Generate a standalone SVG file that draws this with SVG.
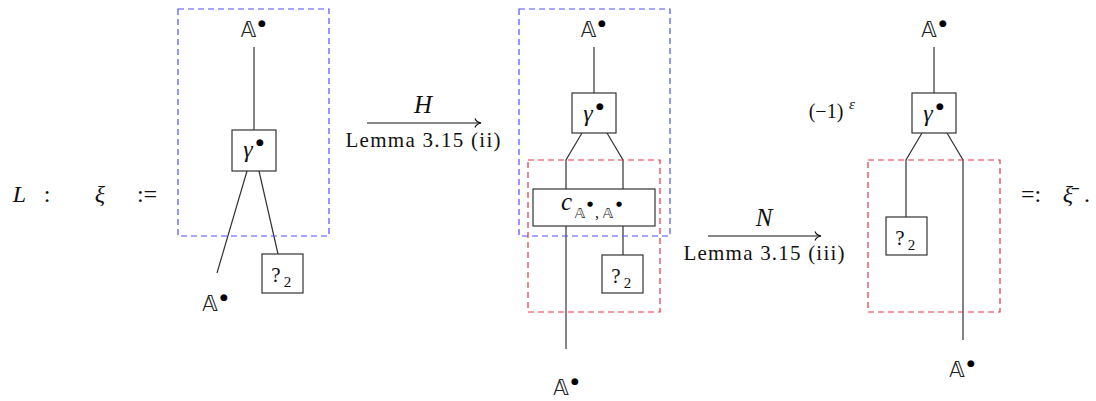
<svg xmlns="http://www.w3.org/2000/svg" width="1096" height="401" viewBox="0 0 1096 401">
<defs>
  <marker id="to" markerUnits="userSpaceOnUse" markerWidth="12" markerHeight="12" viewBox="-7 -6 8 12" refX="0" refY="0" orient="auto">
    <path d="M-6,-4.5 C-5,-1.8 -2,-0.4 0,0 C-2,0.4 -5,1.8 -6,4.5" fill="none" stroke="#111" stroke-width="1.1"/>
  </marker>
</defs>
<rect x="0" y="0" width="1096" height="401" fill="#ffffff"/>

<g id="lhs" fill="#111" text-anchor="middle" font-size="24">
  <text style="font-family: 'Liberation Serif', serif; font-style: italic" x="19.5" y="202">L</text>
  <text style="font-family: 'Liberation Serif', serif" x="47" y="202">:</text>
  <text style="font-family: 'Liberation Serif', serif; font-style: italic" x="100" y="202">ξ</text>
  <text style="font-family: 'Liberation Serif', serif" x="147" y="202">:=</text>
</g>

<g id="connectors" fill="none" stroke="#333333" stroke-width="1.2">
  <line x1="254" y1="47" x2="254" y2="130"/>
  <line x1="247" y1="171" x2="217" y2="273"/>
  <line x1="259" y1="171" x2="278" y2="254"/>
  <line x1="594" y1="47" x2="594" y2="93"/>
  <polyline points="582,133 566,160 566,189"/>
  <polyline points="607,133 623,160 623,189"/>
  <line x1="566" y1="226" x2="566" y2="349"/>
  <line x1="623" y1="226" x2="623" y2="255"/>
  <line x1="934" y1="47" x2="934" y2="93"/>
  <polyline points="922,133 906,160 906,217"/>
  <polyline points="947,133 963,160 963,340"/>
  <line x1="367" y1="123" x2="481" y2="123" stroke="#111" stroke-width="1.1" marker-end="url(#to)"/>
  <line x1="708" y1="236" x2="821" y2="236" stroke="#111" stroke-width="1.1" marker-end="url(#to)"/>
</g>

<g id="regions" fill="none" stroke-width="1.2" stroke-dasharray="6 4">
  <rect id="region-blue-1" stroke="#5050ff" x="178" y="9" width="151" height="227"/>
  <rect id="region-blue-2" stroke="#5050ff" x="519" y="9" width="151" height="227"/>
  <rect id="region-red-2" stroke="#e03545" x="528" y="160" width="132" height="152"/>
  <rect id="region-red-3" stroke="#e03545" x="868" y="160" width="132" height="152"/>
</g>

<g id="d1-top"><text style="font-family: 'DejaVu Sans', sans-serif" font-size="21" text-anchor="middle" fill="#222" x="248.5" y="37">𝔸<tspan font-size="9" fill="#000" x="262" y="25.7">●</tspan></text></g>
<g id="d1-gamma">
  <rect x="232" y="130" width="44" height="41" fill="#fff" stroke="#333" stroke-width="1.2"/>
  <text style="font-family: 'Liberation Serif', serif; font-style: italic" font-size="24" text-anchor="middle" fill="#111" x="248" y="157">γ<tspan style="font-family: 'DejaVu Sans', sans-serif; font-style: normal" font-size="9" fill="#000" x="260" y="144.7">●</tspan></text>
</g>
<g id="d1-q2">
  <rect x="262" y="254" width="41" height="39" fill="#fff" stroke="#333" stroke-width="1.2"/>
  <text style="font-family: 'Liberation Serif', serif" font-size="21" text-anchor="middle" fill="#111" x="276" y="282">?<tspan font-size="15" x="287.5" y="287">2</tspan></text>
</g>
<g id="d1-bottom"><text style="font-family: 'DejaVu Sans', sans-serif" font-size="21" text-anchor="middle" fill="#222" x="210" y="311">𝔸<tspan font-size="9" fill="#000" x="224" y="299.7">●</tspan></text></g>

<g id="arrow-H" fill="#111" text-anchor="middle">
  <text style="font-family: 'Liberation Serif', serif; font-style: italic" font-size="25" x="423" y="113">H</text>
  <text style="font-family: 'Liberation Serif', serif" font-size="21" x="423" y="147" textLength="155" lengthAdjust="spacing">Lemma 3.15 (ii)</text>
</g>

<g id="d2-top"><text style="font-family: 'DejaVu Sans', sans-serif" font-size="21" text-anchor="middle" fill="#222" x="588.5" y="37">𝔸<tspan font-size="9" fill="#000" x="602" y="25.7">●</tspan></text></g>
<g id="d2-gamma">
  <rect x="572" y="93" width="44" height="40" fill="#fff" stroke="#333" stroke-width="1.2"/>
  <text style="font-family: 'Liberation Serif', serif; font-style: italic" font-size="24" text-anchor="middle" fill="#111" x="588" y="121">γ<tspan style="font-family: 'DejaVu Sans', sans-serif; font-style: normal" font-size="9" fill="#000" x="600" y="108.7">●</tspan></text>
</g>
<g id="d2-c">
  <rect x="533" y="189" width="122" height="37" fill="#fff" stroke="#333" stroke-width="1.2"/>
  <text style="font-family: 'Liberation Serif', serif; font-style: italic" font-size="25" text-anchor="middle" fill="#111" x="566.5" y="210">c<tspan style="font-family: 'DejaVu Sans', sans-serif; font-style: normal" font-size="14" fill="#222" x="580" y="218">𝔸</tspan><tspan style="font-family: 'DejaVu Sans', sans-serif; font-style: normal" font-size="7" fill="#000" x="590" y="206">●</tspan><tspan style="font-style: normal" font-size="16" x="597" y="218">,</tspan><tspan style="font-family: 'DejaVu Sans', sans-serif; font-style: normal" font-size="14" fill="#222" x="608" y="218">𝔸</tspan><tspan style="font-family: 'DejaVu Sans', sans-serif; font-style: normal" font-size="7" fill="#000" x="619" y="206">●</tspan></text>
</g>
<g id="d2-q2">
  <rect x="602" y="255" width="41" height="38" fill="#fff" stroke="#333" stroke-width="1.2"/>
  <text style="font-family: 'Liberation Serif', serif" font-size="21" text-anchor="middle" fill="#111" x="616" y="283">?<tspan font-size="15" x="627.5" y="288">2</tspan></text>
</g>
<g id="d2-bottom"><text style="font-family: 'DejaVu Sans', sans-serif" font-size="21" text-anchor="middle" fill="#222" x="561" y="395">𝔸<tspan font-size="9" fill="#000" x="575" y="383.7">●</tspan></text></g>

<g id="arrow-N" fill="#111" text-anchor="middle">
  <text style="font-family: 'Liberation Serif', serif; font-style: italic" font-size="25" x="764" y="226">N</text>
  <text style="font-family: 'Liberation Serif', serif" font-size="21" x="764" y="260" textLength="161" lengthAdjust="spacing">Lemma 3.15 (iii)</text>
</g>

<g id="d3-sign">
  <text style="font-family: 'Liberation Serif', serif" font-size="20" text-anchor="middle" fill="#111" x="826" y="118">(−1)<tspan style="font-style: italic" font-size="15" x="852" y="109">ε</tspan></text>
</g>
<g id="d3-top"><text style="font-family: 'DejaVu Sans', sans-serif" font-size="21" text-anchor="middle" fill="#222" x="929" y="37">𝔸<tspan font-size="9" fill="#000" x="943" y="25.7">●</tspan></text></g>
<g id="d3-gamma">
  <rect x="912" y="93" width="44" height="40" fill="#fff" stroke="#333" stroke-width="1.2"/>
  <text style="font-family: 'Liberation Serif', serif; font-style: italic" font-size="24" text-anchor="middle" fill="#111" x="928" y="121">γ<tspan style="font-family: 'DejaVu Sans', sans-serif; font-style: normal" font-size="9" fill="#000" x="940" y="108.7">●</tspan></text>
</g>
<g id="d3-q2">
  <rect x="886" y="217" width="41" height="38" fill="#fff" stroke="#333" stroke-width="1.2"/>
  <text style="font-family: 'Liberation Serif', serif" font-size="21" text-anchor="middle" fill="#111" x="900" y="245">?<tspan font-size="15" x="911.5" y="250">2</tspan></text>
</g>
<g id="d3-bottom"><text style="font-family: 'DejaVu Sans', sans-serif" font-size="21" text-anchor="middle" fill="#222" x="957" y="377">𝔸<tspan font-size="9" fill="#000" x="971" y="365.7">●</tspan></text></g>

<g id="rhs" fill="#111" text-anchor="middle" font-size="24">
  <text style="font-family: 'Liberation Serif', serif" x="1031" y="202">=:</text>
  <text style="font-family: 'Liberation Serif', serif; font-style: italic" x="1068" y="202">ξ̄</text>
  <text style="font-family: 'Liberation Serif', serif" x="1087" y="202">.</text>
</g>
</svg>
